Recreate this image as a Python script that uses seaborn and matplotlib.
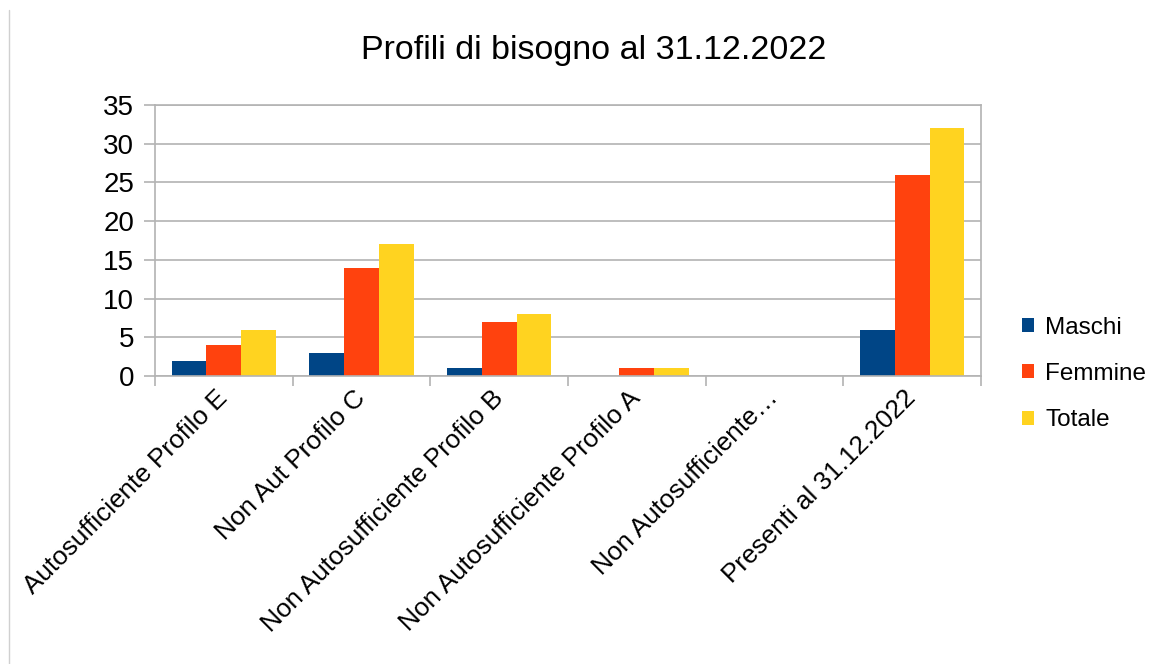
import matplotlib
matplotlib.use("Agg")
import matplotlib.pyplot as plt
import matplotlib.lines as mlines
from matplotlib.patches import Patch
import seaborn as sns
import pandas as pd
import numpy as np

categories = [
    "Autosufficiente Profilo E",
    "Non Aut Profilo C",
    "Non Autosufficiente Profilo B",
    "Non Autosufficiente Profilo A",
    "Non Autosufficiente…",
    "Presenti al 31.12.2022",
]
series_names = ["Maschi", "Femmine", "Totale"]
maschi = [2, 3, 1, 0, 0, 6]
femmine = [4, 14, 7, 1, 0, 26]
totale = [6, 17, 8, 1, 0, 32]
colors = ["#004586", "#ff420e", "#ffd320"]
y_ticks = [0, 5, 10, 15, 20, 25, 30, 35]
title = "Profili di bisogno al 31.12.2022"

rows = []
for name, vals in zip(series_names, [maschi, femmine, totale]):
    for c, v in zip(categories, vals):
        rows.append({"Categoria": c, "Serie": name, "Valore": v})
df = pd.DataFrame(rows)

sns.set_theme(style="white")
plt.rcParams["font.family"] = ["Liberation Sans", "DejaVu Sans"]

fig = plt.figure(figsize=(11.54, 6.64), dpi=100)
ax = fig.add_axes([155 / 1154, 1 - 376 / 664, (981 - 155) / 1154, (376 - 105) / 664])

sns.barplot(data=df, x="Categoria", y="Valore", hue="Serie", order=categories,
            hue_order=series_names, palette=colors, width=0.76, ax=ax,
            saturation=1, linewidth=0, errorbar=None, legend=False)

ax.set_ylim(0, 35)
ax.set_xlim(-0.5, len(categories) - 0.5)
ax.set_yticks(y_ticks)
ax.set_yticklabels([str(t) for t in y_ticks], fontsize=20, color="#000000")
ax.yaxis.grid(True, color="#b3b3b3", linewidth=1.2)
ax.set_axisbelow(True)
ax.set_xlabel("")
ax.set_ylabel("")

for s in ax.spines.values():
    s.set_color("#b3b3b3")
    s.set_linewidth(1.2)
    s.set_visible(True)

ax.tick_params(axis="y", which="major", length=8, color="#b3b3b3", width=1.2, pad=7, left=True)
ax.set_xticks(range(len(categories)))
ax.set_xticklabels(categories, rotation=45, ha="right", va="center",
                   rotation_mode="anchor", fontsize=18.8, color="#000000")
ax.tick_params(axis="x", which="major", length=0, pad=13)
ax.set_xticks(np.arange(-0.5, len(categories), 1.0), minor=True)
ax.tick_params(axis="x", which="minor", length=7, color="#b3b3b3", width=1.2, bottom=True)

handles = [Patch(facecolor=c, edgecolor="none", label=n) for c, n in zip(colors, series_names)]
fig.legend(handles=handles, loc="center left", bbox_to_anchor=(1022 / 1154, 1 - 374 / 664),
           frameon=False, fontsize=17.5, handlelength=0.5, handleheight=0.5,
           handletextpad=0.45, labelspacing=1.0, borderaxespad=0, borderpad=0,
           labelcolor="#000000")

fig.text(594 / 1154, 1 - 50 / 664, title, ha="center", va="center", fontsize=24.5,
         color="#000000")

fig.add_artist(mlines.Line2D([9 / 1154, 9 / 1154], [0, 1 - 10 / 664],
                             color="#d0d0d0", linewidth=1, transform=fig.transFigure))

fig.savefig("out.png", dpi=100, facecolor="white")
